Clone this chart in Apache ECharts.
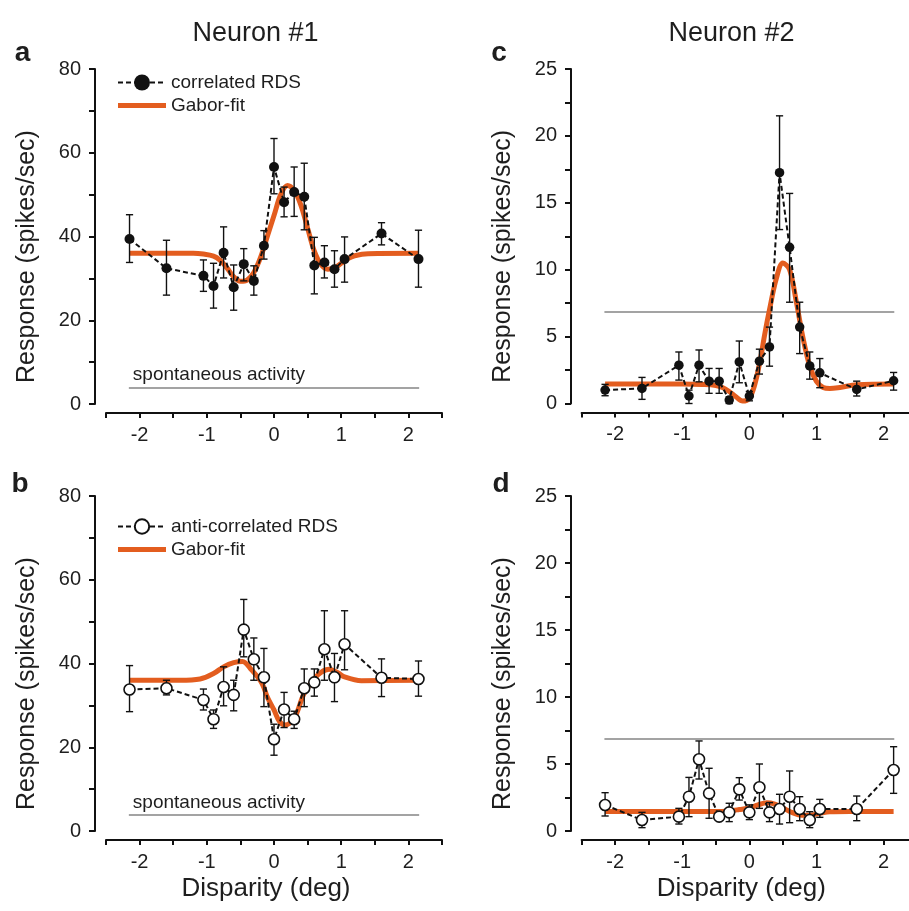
<!DOCTYPE html>
<html><head><meta charset="utf-8">
<script src="https://cdn.jsdelivr.net/npm/echarts@6/dist/echarts.min.js"></script>
<style>html,body{margin:0;padding:0;background:#fff}#c{width:909px;height:911px}</style>
</head><body><div id="c"></div>
<script>
// ---- data ----
const disparity = [-2.15,-1.6,-1.05,-0.9,-0.75,-0.6,-0.45,-0.3,-0.15,0,0.15,0.3,0.45,0.6,0.75,0.9,1.05,1.6,2.15];

// Neuron #1, correlated RDS (a)
const meanA = [39.4,32.4,30.6,28.2,36.1,27.9,33.4,29.4,37.8,56.6,48.2,50.6,49.5,33.1,33.8,32.2,34.6,40.7,34.6];
const hiA   = [45.2,39.1,34.4,33.6,42.3,33.2,37.1,33.0,41.4,63.4,51.8,56.6,57.5,39.8,37.8,36.6,39.9,43.3,41.5];
const loA   = [33.8,26.0,26.9,22.9,30.1,22.4,29.4,26.0,34.6,50.2,44.7,44.8,41.6,26.3,30.1,27.9,29.1,38.0,27.9];
const fitXA = [-2.15,-1.5,-1.2,-1.05,-0.9,-0.8,-0.7,-0.6,-0.5,-0.4,-0.3,-0.2,-0.1,0,0.1,0.2,0.3,0.4,0.5,0.6,0.7,0.8,0.9,1.0,1.1,1.2,1.4,2.15];
const fitYA = [36,36,36,35.8,35.3,34.3,32.5,30.4,29.3,29.6,31.4,35,40,45,50,52.2,51,47.5,42,36.5,33.3,32.2,32.5,33.6,34.7,35.4,35.9,36];

// Neuron #1, anti-correlated RDS (b)
const meanB = [33.8,34.1,31.3,26.7,34.4,32.5,48.1,41.0,36.7,21.9,29.0,26.7,34.1,35.5,43.4,36.7,44.6,36.6,36.3];
const hiB   = [39.5,36.0,33.9,28.9,39.2,36.0,55.3,46.1,43.6,25.5,33.1,28.6,38.7,38.7,52.6,42.4,52.6,41.1,40.6];
const loB   = [28.5,32.5,28.9,24.5,29.9,28.7,41.6,36.0,29.7,18.1,24.7,24.5,29.7,32.2,36.0,30.9,38.5,32.1,32.2];
const fitXB = [-2.15,-1.4,-1.1,-0.9,-0.75,-0.6,-0.47,-0.33,-0.18,-0.1,0,0.08,0.16,0.3,0.45,0.6,0.7,0.82,0.95,1.05,1.3,2.15];
const fitYB = [36,36,36.3,37.6,39.2,40.2,40.5,38.4,35.3,32,28.9,26.2,25.3,26.9,32.9,36.4,37.9,38.6,37.8,36.8,35.9,36];

// Neuron #2, correlated RDS (c)
const meanC = [1.0,1.13,2.86,0.56,2.86,1.67,1.67,0.26,3.11,0.56,3.16,4.23,17.25,11.67,5.71,2.81,2.29,1.05,1.7];
const hiC   = [1.43,1.95,3.85,1.0,4.0,2.62,2.62,0.5,4.67,0.9,4.06,5.71,21.5,15.7,7.57,3.85,3.36,1.67,2.32];
const loC   = [0.58,0.31,1.75,0.0,1.62,0.76,0.76,0.0,1.55,0.2,2.2,2.79,13.0,7.57,3.73,1.82,1.18,0.56,1.0];
const fitXC = [-2.15,-1.0,-0.7,-0.5,-0.4,-0.3,-0.2,-0.1,0,0.08,0.16,0.23,0.3,0.4,0.5,0.6,0.7,0.8,0.9,1.0,1.1,1.2,1.35,1.6,2.15];
const fitYC = [1.45,1.45,1.42,1.35,1.2,0.9,0.5,0.18,0.4,1.4,3.2,5.2,7.0,9.3,10.5,10.0,7.6,4.9,2.8,1.65,1.2,1.12,1.2,1.4,1.45];

// Neuron #2, anti-correlated RDS (d)
const meanD = [1.94,0.82,1.07,2.56,5.35,2.81,1.07,1.39,3.11,1.39,3.26,1.39,1.64,2.56,1.64,0.82,1.64,1.64,4.55];
const hiD   = [2.86,1.39,1.69,4.0,6.72,4.68,1.35,2.07,3.98,1.95,5.0,2.12,2.74,4.48,2.56,1.44,2.36,2.61,6.29];
const loD   = [1.12,0.25,0.52,1.07,3.88,0.95,0.8,0.7,2.31,0.85,1.69,0.7,0.52,0.62,0.77,0.25,1.02,0.77,2.81];
const fitXD = [-2.15,-0.5,-0.3,-0.15,0,0.13,0.26,0.38,0.5,0.65,0.78,0.9,1.05,1.2,1.5,2.15];
const fitYD = [1.45,1.45,1.5,1.6,1.72,1.95,2.1,2.0,1.72,1.35,1.18,1.18,1.32,1.43,1.45,1.45];

// spontaneous activity levels and their extent
const spont = [3.9, 3.8, 6.83, 6.85];
const spontRange = [-2.16, 2.16];

const xTicks = [-2,-1,0,1,2];

// ---- chart ----
const FONT = "'Liberation Sans', Arial, Helvetica, sans-serif";
const ORANGE = '#E35D1F';
const TXT = '#1e1e1e';
const chart = echarts.init(document.getElementById('c'), null, {renderer:'canvas'});

const grids = [
  {left:106, top:69, width:336, height:335},
  {left:106, top:496, width:336, height:335},
  {left:581.6, top:69, width:335.5, height:334.5},
  {left:581.6, top:496, width:335.5, height:335}
].map(g => Object.assign({containLabel:false, outerBoundsMode:'none'}, g));

function xAxisFor(i){
  const bottom = (i === 1 || i === 3);
  return {
    type:'value', gridIndex:i, min:-2.5, max:2.5, interval:0.5, offset:9, position:'bottom',
    axisLine:{show:true, onZero:false, lineStyle:{color:'#111', width:2}},
    axisTick:{show:true, length:5, lineStyle:{color:'#111', width:2}},
    axisLabel:{fontSize:20, color:TXT, margin:12, fontFamily:FONT,
      formatter: v => xTicks.indexOf(Math.round(v*100)/100) >= 0 ? String(Math.round(v)) : ''},
    splitLine:{show:false},
    name: bottom ? 'Disparity (deg)' : '',
    nameLocation:'middle', nameGap:36,
    nameTextStyle:{fontSize:26, color:TXT, fontFamily:FONT, padding:[0,16,0,0]}
  };
}
function yAxisFor(i, max, interval, labelStep, offset){
  return {
    type:'value', gridIndex:i, min:0, max:max, interval:interval, offset:offset, position:'left',
    axisLine:{show:true, onZero:false, lineStyle:{color:'#111', width:2}},
    axisTick:{show:true, length:6, lineStyle:{color:'#111', width:2}},
    axisLabel:{fontSize:20, color:TXT, margin:14, fontFamily:FONT,
      formatter: v => (Math.abs(v/labelStep - Math.round(v/labelStep)) < 1e-6) ? String(v) : ''},
    splitLine:{show:false},
    name:'Response (spikes/sec)', nameLocation:'middle', nameGap:55,
    nameTextStyle:{fontSize:25, color:TXT, fontFamily:FONT, padding:[0,40,0,0]}
  };
}

function errRender(params, api){
  const x = api.value(0), lo = api.value(1), hi = api.value(2);
  const pHi = api.coord([x, hi]), pLo = api.coord([x, lo]);
  const cw = 3.6;
  const st = {stroke:'#111', lineWidth:1.4};
  return {type:'group', children:[
    {type:'line', shape:{x1:pHi[0], y1:pHi[1], x2:pLo[0], y2:pLo[1]}, style:st},
    {type:'line', shape:{x1:pHi[0]-cw, y1:pHi[1], x2:pHi[0]+cw, y2:pHi[1]}, style:st},
    {type:'line', shape:{x1:pLo[0]-cw, y1:pLo[1], x2:pLo[0]+cw, y2:pLo[1]}, style:st}
  ]};
}

function panelSeries(i, name, mean, lo, hi, fx, fy, open, label){
  const zip = (a,b) => a.map((v,k) => [v, b[k]]);
  const ml = {
    z:1, silent:true, symbol:'none',
    lineStyle:{color:'#a3a3a3', width:2, type:'solid'},
    label: label ? {show:true, position:'insideStartTop', formatter:label, fontSize:19, color:TXT, fontFamily:FONT, distance:[4,3]} : {show:false},
    emphasis:{disabled:true},
    data:[[{coord:[spontRange[0], spont[i]]},{coord:[spontRange[1], spont[i]]}]]
  };
  return [
    {type:'line', name:'Gabor-fit', xAxisIndex:i, yAxisIndex:i, z:2,
     data: zip(fx, fy), smooth:0.35, symbol:'none', showSymbol:false,
     lineStyle:{color:ORANGE, width:5}, itemStyle:{color:ORANGE},
     markLine: ml, silent:true, animation:false},
    {type:'custom', name:'err'+i, xAxisIndex:i, yAxisIndex:i, z:3,
     renderItem: errRender, encode:{x:0, y:[1,2]},
     data: disparity.map((d,k) => [d, lo[k], hi[k]]), silent:true, animation:false},
    {type:'line', name:name, xAxisIndex:i, yAxisIndex:i, z:4,
     data: zip(disparity, mean), symbol:'circle', symbolSize: open ? 11 : (i===2 ? 9.5 : 10), showSymbol:true,
     lineStyle:{color:'#111', width:2, type:[5,3]},
     itemStyle: open ? {color:'#fff', borderColor:'#111', borderWidth:1.6} : {color:'#111', borderColor:'#111', borderWidth:0},
     silent:true, animation:false}
  ];
}

const series = [].concat(
  panelSeries(0, 'correlated RDS', meanA, loA, hiA, fitXA, fitYA, false, 'spontaneous activity'),
  panelSeries(1, 'anti-correlated RDS', meanB, loB, hiB, fitXB, fitYB, true, 'spontaneous activity'),
  panelSeries(2, 'correlated RDS', meanC, loC, hiC, fitXC, fitYC, false, null),
  panelSeries(3, 'anti-correlated RDS', meanD, loD, hiD, fitXD, fitYD, true, null)
);

const legendBase = {orient:'vertical', left:117, itemWidth:48, itemGap:4, selectedMode:false,
  symbolKeepAspect:true, textStyle:{fontSize:19, color:TXT, fontFamily:FONT}, padding:0};
const fitIcon = 'path://M0,0H48V5H0Z';

const gtext = (t, x, y, size, bold) => ({type:'text', x:x, y:y, silent:true,
  style:{text:t, fontSize:size, fontWeight: bold ? 'bold' : 'normal', fontFamily:FONT, fill:TXT,
         textAlign:'center', textVerticalAlign:'middle'}});

chart.setOption({
  animation:false,
  backgroundColor:'#fff',
  textStyle:{fontFamily:FONT},
  grid: grids,
  xAxis: [0,1,2,3].map(xAxisFor),
  yAxis: [
    yAxisFor(0, 80, 10, 20, 11),
    yAxisFor(1, 80, 10, 20, 11),
    yAxisFor(2, 25, 2.5, 5, 10.6),
    yAxisFor(3, 25, 2.5, 5, 10.6)
  ],
  legend: [
    Object.assign({}, legendBase, {top:73, itemHeight:20,
      data:[{name:'correlated RDS'}, {name:'Gabor-fit', icon:fitIcon}]}),
    Object.assign({}, legendBase, {top:517, itemHeight:18,
      data:[{name:'anti-correlated RDS'}, {name:'Gabor-fit', icon:fitIcon}]})
  ],
  graphic: [
    gtext('Neuron #1', 255.5, 33.5, 27, false),
    gtext('Neuron #2', 731.5, 33.5, 27, false),
    gtext('a', 22.5, 53.6, 28, true),
    gtext('b', 20, 484.3, 28, true),
    gtext('c', 499, 53.6, 28, true),
    gtext('d', 501, 484.3, 28, true)
  ],
  series: series
});
</script>
</body></html>
